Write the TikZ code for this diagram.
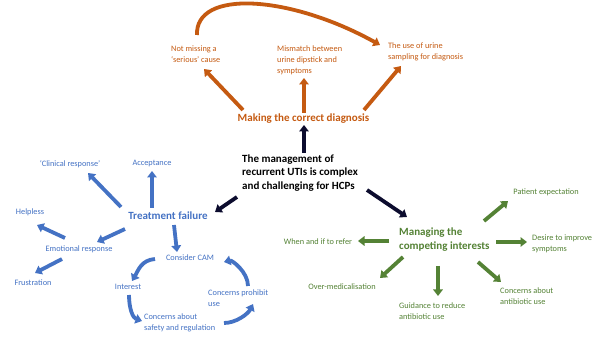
\documentclass[tikz,border=0pt]{standalone}
\usepackage{fontspec}
\setmainfont{Carlito}
\usetikzlibrary{arrows.meta}
\definecolor{diagorange}{HTML}{C55A11}
\definecolor{failblue}{HTML}{4472C4}
\definecolor{interestgreen}{HTML}{548235}
\definecolor{corenavy}{HTML}{0C0C2E}
\newcommand{\smalltext}{\fontsize{8.3}{11}\selectfont}
\newcommand{\titletext}{\fontsize{11}{13.5}\selectfont\bfseries}
\begin{document}
\begin{tikzpicture}[x=1pt, y=1pt]
    \tikzstyle{label_style} = [inner sep=1pt, align=left, font=\smalltext]
    \tikzstyle{title_style} = [inner sep=1pt, align=left, font=\titletext]
    \tikzstyle{arrow_style} = [-{Triangle[width=9.5pt, length=6.5pt]}, line width=3.8pt]
    \tikzstyle{arrow_orange} = [arrow_style, diagorange]
    \tikzstyle{arrow_blue} = [arrow_style, failblue]
    \tikzstyle{arrow_green} = [arrow_style, interestgreen]
    \tikzstyle{arrow_core} = [arrow_style, corenavy]

    \fill[white] (0,0) rectangle (597,337);
    \useasboundingbox (0,0) rectangle (597,337);

    % centre
    \node[title_style, anchor=west, text=black] (core) at (241,164) {The management of\\recurrent UTIs is complex\\and challenging for HCPs};

    % diagnosis
    \node[title_style, text=diagorange] (diag) at (303.5,218) {Making the correct diagnosis};
    \node[label_style, anchor=west, text=diagorange] (dserious) at (170,282.5) {Not missing a\\`serious' cause};
    \node[label_style, anchor=west, text=diagorange] (dmismatch) at (276,277) {Mismatch between\\urine dipstick and\\symptoms};
    \node[label_style, anchor=west, text=diagorange] (dsampling) at (387,285.5) {The use of urine\\sampling for diagnosis};

    % treatment failure
    \node[title_style, text=failblue] (treat) at (168,121) {Treatment failure};
    \node[label_style, text=failblue] (clinical) at (70,173) {`Clinical response'};
    \node[label_style, text=failblue] (accept) at (152,173) {Acceptance};
    \node[label_style, text=failblue] (helpless) at (30,125) {Helpless};
    \node[label_style, text=failblue] (emotional) at (79,88) {Emotional response};
    \node[label_style, text=failblue] (frustr) at (33,54) {Frustration};
    \node[label_style, text=failblue] (cam) at (190,79) {Consider CAM};
    \node[label_style, text=failblue] (interest) at (128,50) {Interest};
    \node[label_style, anchor=west, text=failblue] (prohibit) at (207,39) {Concerns prohibit\\use};
    \node[label_style, anchor=west, text=failblue] (safety) at (143,14) {Concerns about\\safety and regulation};

    % competing interests
    \node[title_style, anchor=west, text=interestgreen] (manage) at (398,97.5) {Managing the\\competing interests};
    \node[label_style, text=interestgreen] (patient) at (546,145) {Patient expectation};
    \node[label_style, anchor=west, text=interestgreen] (desire) at (531,93) {Desire to improve\\symptoms};
    \node[label_style, text=interestgreen] (refer) at (318,95) {When and if to refer};
    \node[label_style, text=interestgreen] (overmed) at (342,50) {Over-medicalisation};
    \node[label_style, anchor=west, text=interestgreen] (guidance) at (398,26) {Guidance to reduce\\antibiotic use};
    \node[label_style, anchor=west, text=interestgreen] (concerns) at (499,40.5) {Concerns about\\antibiotic use};

    % centre arrows
    \draw[arrow_core] ([shift={(63,20)}]core.west) -- ([shift={(0.5,-6)}]diag.center);
    \draw[arrow_core] ([shift={(-4,-24)}]core.west) -- ([shift={(47,4)}]treat.center);
    \draw[arrow_core] ([shift={(126,-17)}]core.west) -- ([shift={(9,22.5)}]manage.west);

    % diagnosis arrows
    \draw[arrow_orange] ([shift={(-60.5,9)}]diag.center) -- ([shift={(34,-14.5)}]dserious.west);
    \draw[arrow_orange] ([shift={(0.5,6)}]diag.center) -- ([shift={(28,-18)}]dmismatch.west);
    \draw[arrow_orange] ([shift={(60.5,9)}]diag.center) -- ([shift={(14,-14.5)}]dsampling.west);
    \draw[arrow_orange] ([shift={(27,19.5)}]dserious.west) .. controls +(-2,46) and +(-90,50) .. ([shift={(-7,6.5)}]dsampling.west);

    % treatment failure arrows
    \draw[arrow_blue] ([shift={(-47,9)}]treat.center) -- ([shift={(18,-9)}]clinical.center);
    \draw[arrow_blue] ([shift={(-16,8)}]treat.center) -- ([shift={(0,-7)}]accept.center);
    \draw[arrow_blue] ([shift={(-43,-13)}]treat.center) -- ([shift={(18,7)}]emotional.center);
    \draw[arrow_blue] ([shift={(6,-9)}]treat.center) -- ([shift={(-13,6)}]cam.center);
    \draw[arrow_blue] ([shift={(-14,11)}]emotional.center) -- ([shift={(7,-13)}]helpless.center);
    \draw[arrow_blue] ([shift={(-17,-10)}]emotional.center) -- ([shift={(2,10)}]frustr.center);

    % CAM cycle
    \draw[arrow_blue] ([shift={(-35,-1)}]cam.center) .. controls +(-14,-1) and +(6,10) .. ([shift={(4,6)}]interest.center);
    \draw[arrow_blue] ([shift={(1,-8)}]interest.center) .. controls +(0,-14) and +(-9,3) .. ([shift={(-1,2)}]safety.west);
    \draw[arrow_blue] ([shift={(81,0)}]safety.west) .. controls +(12,0) and +(-5,-10) .. ([shift={(46,-6)}]prohibit.west);
    \draw[arrow_blue] ([shift={(41,12)}]prohibit.west) .. controls +(0,14) and +(8,2) .. ([shift={(34,-4)}]cam.center);

    % competing interests arrows
    \draw[arrow_green] ([shift={(86,18.5)}]manage.west) -- ([shift={(-38,-9)}]patient.center);
    \draw[arrow_green] ([shift={(98,-2.5)}]manage.west) -- ([shift={(-4,2)}]desire.west);
    \draw[arrow_green] ([shift={(-9,-1.5)}]manage.west) -- ([shift={(40,1)}]refer.center);
    \draw[arrow_green] ([shift={(5,-17.5)}]manage.west) -- ([shift={(38,9)}]overmed.center);
    \draw[arrow_green] ([shift={(40,-26.5)}]manage.west) -- ([shift={(40,15)}]guidance.west);
    \draw[arrow_green] ([shift={(80,-22.5)}]manage.west) -- ([shift={(2,14.5)}]concerns.west);
\end{tikzpicture}
\end{document}
